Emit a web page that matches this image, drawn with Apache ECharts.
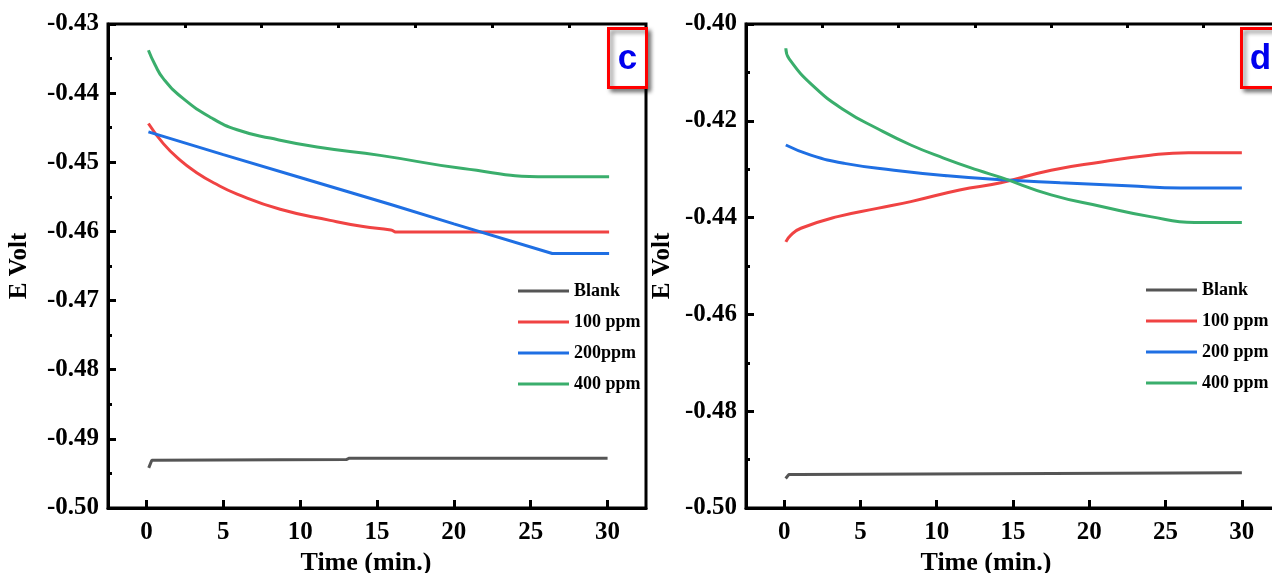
<!DOCTYPE html>
<html>
<head>
<meta charset="utf-8">
<script src="https://cdn.jsdelivr.net/npm/echarts@6/dist/echarts.min.js"></script>
<style>
  html, body { margin: 0; padding: 0; background: #fff; }
  #main { width: 1272px; height: 573px; }
</style>
</head>
<body>
<div id="main"></div>
<script>
// tick labels
var xTicks = [0, 5, 10, 15, 20, 25, 30];
var xMinorTicks = [2.5, 7.5, 12.5, 17.5, 22.5, 27.5];

// panel c
var cNames = ['Blank', '100 ppm', '200ppm', '400 ppm'];
var cBlankT = [0.15, 0.35, 13, 13.2, 30];
var cBlankV = [-0.4942, -0.4931, -0.4930, -0.4928, -0.4928];
var cRedT = [0.13, 1.1, 2.19, 3.27, 4.4, 5.9, 8.7, 11.95, 14.1, 15.9, 16.3, 30.1];
var cRedV = [-0.4444, -0.4473, -0.4497, -0.4515, -0.4530, -0.4546, -0.4568, -0.4584, -0.4593, -0.4598, -0.4601, -0.4601];
var cBlueT = [0.13, 5, 10, 15.9, 20, 26.4, 30.1];
var cBlueV = [-0.4456, -0.4489, -0.4522, -0.4561, -0.4589, -0.4632, -0.4632];
var cGreenT = [0.13, 0.56, 1.1, 2.4, 4.25, 5.9, 8.05, 11.1, 15.2, 20.6, 26.1, 30.1];
var cGreenV = [-0.4338, -0.4359, -0.4379, -0.4408, -0.4436, -0.4453, -0.4465, -0.4478, -0.4490, -0.4509, -0.4521, -0.4521];

// panel d
var dNames = ['Blank', '100 ppm', '200 ppm', '400 ppm'];
var dBlankT = [0.1, 0.3, 0.9, 1.0, 30];
var dBlankV = [-0.4939, -0.4931, -0.4931, -0.4927, -0.4927];
var dRedT = [0.11, 0.44, 1.1, 3.5, 6.1, 8.3, 11.5, 14.2, 17.5, 20.8, 24.0, 26.5, 30.0];
var dRedV = [-0.4450, -0.4436, -0.4422, -0.4398, -0.4381, -0.4367, -0.4343, -0.4328, -0.4302, -0.4285, -0.4271, -0.4266, -0.4266];
var dBlueT = [0.11, 1.75, 3.95, 7.2, 10.5, 14.2, 18.1, 22.5, 26.0, 30.0];
var dBlueV = [-0.4250, -0.4271, -0.4288, -0.4302, -0.4313, -0.4322, -0.4328, -0.4334, -0.4339, -0.4339];
var dGreenT = [0.11, 0.33, 1.97, 3.95, 6.1, 8.3, 10.45, 12.7, 14.2, 17.5, 20.8, 24.0, 26.9, 30.0];
var dGreenV = [-0.4050, -0.4072, -0.4130, -0.4178, -0.4216, -0.4250, -0.4277, -0.4302, -0.4317, -0.4353, -0.4377, -0.4398, -0.4410, -0.4410];

var colors = ['#555555', '#f04343', '#1f6fe3', '#3aae6c'];
var serif = "'Liberation Serif', 'Times New Roman', serif";

function zip(t, v) {
    return t.map(function (x, i) { return [x, v[i]]; });
}

function line(name, t, v, color, idx, smooth) {
    return {
        name: name,
        type: 'line',
        xAxisIndex: idx * 2,
        yAxisIndex: idx,
        data: zip(t, v),
        showSymbol: false,
        symbol: 'none',
        smooth: smooth,
        color: color,
        lineStyle: { width: 3, color: color },
        itemStyle: { color: color },
        z: 3
    };
}

// namePad: the title in the picture sits a little left of the axis centre
function xAxes(idx, namePad) {
    return [
        {
            type: 'value', gridIndex: idx, min: -2.5, max: 32.5,
            name: 'Time (min.)', nameLocation: 'middle', nameGap: 39,
            nameTextStyle: { fontFamily: serif, fontWeight: 'bold', fontSize: 26, color: '#000', padding: [0, namePad, 0, 0] },
            axisLine: { show: true, onZero: false, lineStyle: { color: '#000', width: 3 } },
            axisTick: { show: true, inside: true, length: 8, lineStyle: { width: 3, color: '#000' }, customValues: xTicks },
            axisLabel: { show: true, margin: 12, fontFamily: serif, fontWeight: 'bold', fontSize: 25, color: '#000', customValues: xTicks },
            splitLine: { show: false }
        },
        {
            type: 'value', gridIndex: idx, min: -2.5, max: 32.5,
            axisLine: { show: false, onZero: false },
            axisTick: { show: true, inside: true, length: 4, lineStyle: { width: 3, color: '#000' }, customValues: xMinorTicks },
            axisLabel: { show: false },
            splitLine: { show: false }
        }
    ];
}

function yAxis(idx, max, interval, nameGap) {
    return {
        type: 'value', gridIndex: idx, min: -0.50, max: max, interval: interval,
        name: 'E Volt', nameLocation: 'middle', nameGap: nameGap,
        nameTextStyle: { fontFamily: serif, fontWeight: 'bold', fontSize: 25, color: '#000' },
        axisLine: { show: true, onZero: false, lineStyle: { color: '#000', width: 3 } },
        axisTick: { show: true, inside: true, length: 8, lineStyle: { width: 3, color: '#000' } },
        minorTick: { show: true, splitNumber: 2, length: 4, lineStyle: { width: 3, color: '#000' } },
        axisLabel: {
            margin: 9, fontFamily: serif, fontWeight: 'bold', fontSize: 25, color: '#000',
            formatter: function (v) { return v.toFixed(2); }
        },
        splitLine: { show: false }
    };
}

function legend(names, left, top) {
    return {
        data: names,
        orient: 'vertical',
        left: left, top: top,
        icon: 'rect',
        itemWidth: 51, itemHeight: 3,
        itemGap: 11,
        textStyle: { fontFamily: serif, fontWeight: 'bold', fontSize: 18, color: '#000', lineHeight: 20 }
    };
}

function labelBox(letter, x) {
    return {
        type: 'group', left: x, top: 27, z: 10,
        children: [
            { type: 'rect', shape: { x: 0, y: 0, width: 38, height: 59 },
              style: { fill: '#fff', stroke: '#ff0000', lineWidth: 3,
                       shadowBlur: 4, shadowOffsetX: 3, shadowOffsetY: 3, shadowColor: 'rgba(0,0,0,0.45)' } },
            { type: 'text', x: 19, y: 31,
              style: { text: letter, fill: '#0000ee', font: "bold 35px 'Liberation Sans', Arial, sans-serif",
                       align: 'center', verticalAlign: 'middle' } }
        ]
    };
}

var myChart = echarts.init(document.getElementById('main'));

var option = {
    animation: false,
    backgroundColor: '#fff',
    grid: [
        { left: 108, top: 24, width: 538, height: 484, outerBoundsMode: 'none', containLabel: false,
          show: true, borderColor: '#000', borderWidth: 3 },
        { left: 746, top: 24, width: 534, height: 484, outerBoundsMode: 'none', containLabel: false,
          show: true, borderColor: '#000', borderWidth: 3 }
    ],
    xAxis: xAxes(0, 22).concat(xAxes(1, 54)),
    yAxis: [yAxis(0, -0.43, 0.01, 76), yAxis(1, -0.40, 0.02, 71)],
    legend: [legend(cNames, 513, 276), legend(dNames, 1141, 275)],
    series: [
        line(cNames[0], cBlankT, cBlankV, colors[0], 0, false),
        line(cNames[1], cRedT, cRedV, colors[1], 0, 0.5),
        line(cNames[2], cBlueT, cBlueV, colors[2], 0, false),
        line(cNames[3], cGreenT, cGreenV, colors[3], 0, 0.5),
        line(dNames[0], dBlankT, dBlankV, colors[0], 1, false),
        line(dNames[1], dRedT, dRedV, colors[1], 1, 0.5),
        line(dNames[2], dBlueT, dBlueV, colors[2], 1, 0.5),
        line(dNames[3], dGreenT, dGreenV, colors[3], 1, 0.5)
    ],
    graphic: [labelBox('c', 607), labelBox('d', 1240)]
};

myChart.setOption(option);
</script>
</body>
</html>
